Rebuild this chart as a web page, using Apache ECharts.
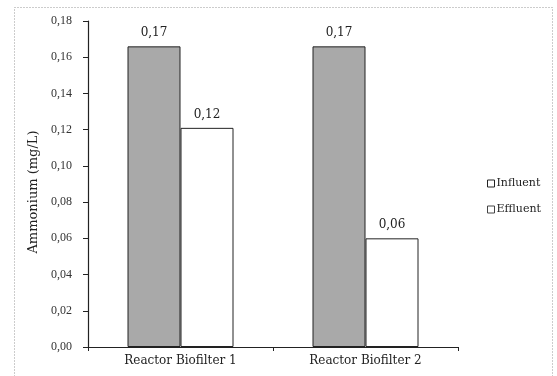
<!DOCTYPE html>
<html>
<head>
<meta charset="utf-8">
<script src="https://cdn.jsdelivr.net/npm/echarts@6/dist/echarts.min.js"></script>
<style>html,body{margin:0;padding:0;background:#fff;}#c{width:557px;height:376px;}</style>
</head>
<body>
<div id="c"></div>
<script>
const categories = ['Reactor Biofilter 1', 'Reactor Biofilter 2'];
const influent = [0.166, 0.166];
const effluent = [0.121, 0.060];
const influentLabels = ['0,17', '0,17'];
const effluentLabels = ['0,12', '0,06'];
const yTicks = { min: 0, max: 0.18, interval: 0.02 };

const serif = '"Liberation Serif", "DejaVu Serif", serif';
const wide = '"DejaVu Serif", "Liberation Serif", serif';
const chart = echarts.init(document.getElementById('c'), null, { renderer: 'canvas' });
chart.setOption({
  backgroundColor: '#ffffff',
  animation: false,
  textStyle: { fontFamily: serif, color: '#222' },
  graphic: [{
    type: 'rect', shape: { x: 14.5, y: 7.5, width: 538, height: 380 },
    style: { fill: 'none', stroke: '#999', lineWidth: 1, lineDash: [1, 2] }, silent: true, z: -1
  }],
  grid: { left: 88, right: 99, top: 21, bottom: 29 },
  legend: {
    orient: 'vertical', left: 482, top: 173, itemWidth: 7, itemHeight: 7, itemGap: 15,
    textStyle: { fontFamily: wide, fontSize: 11, color: '#222', padding: [0, 0, 0, -3] },
    data: [
      { name: 'Influent', icon: 'rect', itemStyle: { color: '#fff', borderColor: '#222', borderWidth: 1 } },
      { name: 'Effluent', icon: 'rect', itemStyle: { color: '#fff', borderColor: '#444', borderWidth: 1 } }
    ]
  },
  xAxis: {
    type: 'category', data: categories,
    axisLine: { lineStyle: { color: '#222', width: 1.2 } },
    axisTick: { show: true, inside: false, length: 4, lineStyle: { color: '#222' } },
    axisLabel: { fontFamily: wide, fontSize: 12, color: '#222', margin: 8 }
  },
  yAxis: {
    type: 'value', min: yTicks.min, max: yTicks.max, interval: yTicks.interval,
    name: 'Ammonium (mg/L)', nameLocation: 'middle', nameGap: 45, nameRotate: 90,
    nameTextStyle: { fontFamily: wide, fontSize: 13, color: '#222', padding: [0, 16, 0, 0] },
    axisLine: { show: true, lineStyle: { color: '#222', width: 1.2 } },
    axisTick: { show: true, length: 5, lineStyle: { color: '#222' } },
    splitLine: { show: false },
    axisLabel: { fontFamily: serif, fontSize: 12, color: '#333', margin: 16,
      formatter: v => v.toFixed(2).replace('.', ',') }
  },
  series: [
    {
      name: 'Influent', type: 'bar', data: influent, barWidth: 53, barGap: '0%',
      itemStyle: { color: '#a9a9a9', borderColor: '#222', borderWidth: 1 },
      label: { show: true, position: 'top', distance: 7, fontFamily: wide, fontSize: 12, color: '#222',
        formatter: p => influentLabels[p.dataIndex] }
    },
    {
      name: 'Effluent', type: 'bar', data: effluent, barWidth: 53,
      itemStyle: { color: '#ffffff', borderColor: '#222', borderWidth: 1 },
      label: { show: true, position: 'top', distance: 7, fontFamily: wide, fontSize: 12, color: '#222',
        formatter: p => effluentLabels[p.dataIndex] }
    }
  ]
});
</script>
</body>
</html>
